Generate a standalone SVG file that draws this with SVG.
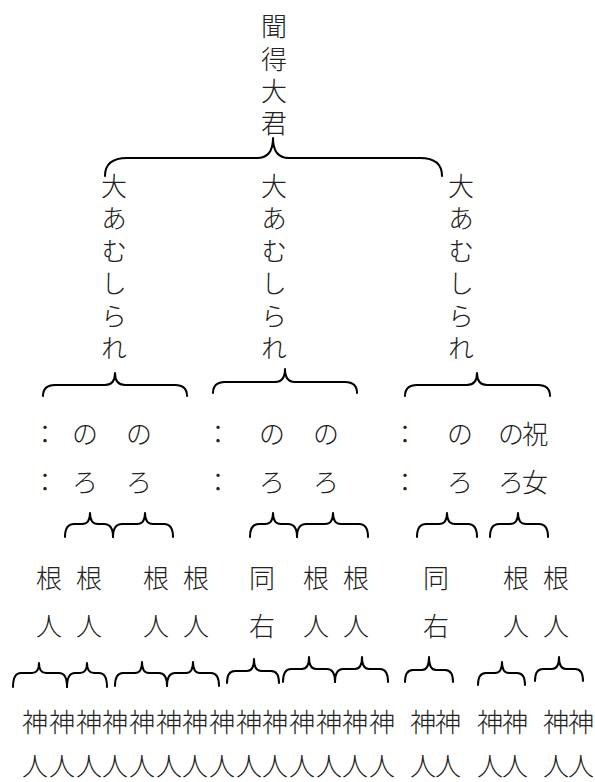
<svg xmlns="http://www.w3.org/2000/svg" width="595" height="782" viewBox="0 0 595 782">
<style>
.t{font-family:"Noto Sans CJK JP","Noto Sans CJK SC",sans-serif;font-size:26px;font-weight:300;fill:#222;text-anchor:middle}
.v{font-family:"Noto Sans CJK JP","Noto Sans CJK SC",sans-serif;font-size:26px;font-weight:300;fill:#222;writing-mode:vertical-rl;text-anchor:start}
.b{fill:none;stroke:#000;stroke-width:2;stroke-linecap:round;stroke-linejoin:round}
</style>
<rect width="595" height="782" fill="#fff"/>
<g id="connectors" class="b">
<path d="M105 176 Q105 158 127 158 L257 158 Q273 158 273 138 Q273 158 289 158 L420 158 Q442 158 442 176"/>
<path d="M43 396 Q43 385 55 385 L105 385 Q115 385 115 373 Q115 385 125 385 L175 385 Q187 385 187 396"/>
<path d="M213 393 Q213 382 225 382 L275 382 Q285 382 285 369 Q285 382 295 382 L345 382 Q357 382 357 393"/>
<path d="M405 396 Q405 385 417 385 L467 385 Q477 385 477 373 Q477 385 487 385 L538 385 Q550 385 550 396"/>
<path d="M65 537 Q65 524 74 524 L82 524 Q90 524 90 513 Q90 524 98 524 L104 524 Q113 524 113 537"/>
<path d="M113 537 Q113 524 122 524 L137 524 Q145 524 145 513 Q145 524 153 524 L164 524 Q173 524 173 537"/>
<path d="M250 537 Q250 524 259 524 L265 524 Q273 524 273 513 Q273 524 281 524 L288 524 Q297 524 297 537"/>
<path d="M297 537 Q297 524 306 524 L325 524 Q333 524 333 513 Q333 524 341 524 L359 524 Q368 524 368 537"/>
<path d="M417 537 Q417 524 426 524 L439 524 Q447 524 447 513 Q447 524 455 524 L468 524 Q477 524 477 537"/>
<path d="M490 537 Q490 524 499 524 L510 524 Q518 524 518 513 Q518 524 526 524 L539 524 Q548 524 548 537"/>
<path d="M13 687 Q13 673 21 673 L32 673 Q39 673 39 663 Q39 673 46 673 L59 673 Q67 673 67 687"/>
<path d="M67 687 Q67 673 75 673 L80 673 Q87 673 87 663 Q87 673 94 673 L99 673 Q107 673 107 687"/>
<path d="M115 686 Q115 673 123 673 L135 673 Q142 673 142 662 Q142 673 149 673 L159 673 Q167 673 167 686"/>
<path d="M167 686 Q167 673 175 673 L186 673 Q193 673 193 662 Q193 673 200 673 L211 673 Q219 673 219 686"/>
<path d="M227 683 Q227 671 235 671 L247 671 Q254 671 254 659 Q254 671 261 671 L271 671 Q279 671 279 683"/>
<path d="M283 682 Q283 669 291 669 L302 669 Q309 669 309 657 Q309 669 316 669 L327 669 Q335 669 335 682"/>
<path d="M335 682 Q335 669 343 669 L355 669 Q362 669 362 657 Q362 669 369 669 L380 669 Q388 669 388 682"/>
<path d="M405 682 Q405 670 413 670 L422 670 Q429 670 429 657 Q429 670 436 670 L445 670 Q453 670 453 682"/>
<path d="M478 685 Q478 673 486 673 L495 673 Q502 673 502 662 Q502 673 509 673 L517 673 Q525 673 525 685"/>
<path d="M535 681 Q535 669 543 669 L552 669 Q559 669 559 657 Q559 669 566 669 L575 669 Q583 669 583 681"/>
</g>
<g id="root"><text class="v" x="274" y="13.5" letter-spacing="6.3">聞得大君</text></g>
<g id="col-1"><text class="v" x="114" y="173" letter-spacing="6.5">大あむしられ</text></g>
<g id="col-2"><text class="v" x="274" y="173" letter-spacing="6.5">大あむしられ</text></g>
<g id="col-3"><text class="v" x="461" y="173" letter-spacing="6.5">大あむしられ</text></g>
<g id="colon-1"><text class="t"><tspan x="45" y="444">：</tspan><tspan x="45" y="492">：</tspan></text></g>
<g id="noro-1"><text class="t"><tspan x="85" y="444">の</tspan><tspan x="85" y="492">ろ</tspan></text></g>
<g id="noro-2"><text class="t"><tspan x="139" y="444">の</tspan><tspan x="139" y="492">ろ</tspan></text></g>
<g id="colon-2"><text class="t"><tspan x="218" y="444">：</tspan><tspan x="218" y="492">：</tspan></text></g>
<g id="noro-3"><text class="t"><tspan x="272" y="444">の</tspan><tspan x="272" y="492">ろ</tspan></text></g>
<g id="noro-4"><text class="t"><tspan x="326" y="444">の</tspan><tspan x="326" y="492">ろ</tspan></text></g>
<g id="colon-3"><text class="t"><tspan x="405" y="444">：</tspan><tspan x="405" y="492">：</tspan></text></g>
<g id="noro-5"><text class="t"><tspan x="460" y="444">の</tspan><tspan x="460" y="492">ろ</tspan></text></g>
<g id="noro-6"><text class="t"><tspan x="511" y="444">の</tspan><tspan x="511" y="492">ろ</tspan></text></g>
<g id="nuru"><text class="t"><tspan x="535" y="444">祝</tspan><tspan x="535" y="492">女</tspan></text></g>
<g id="nebito-1"><text class="t"><tspan x="49" y="588">根</tspan><tspan x="49" y="636">人</tspan></text></g>
<g id="nebito-2"><text class="t"><tspan x="89" y="588">根</tspan><tspan x="89" y="636">人</tspan></text></g>
<g id="nebito-3"><text class="t"><tspan x="156" y="588">根</tspan><tspan x="156" y="636">人</tspan></text></g>
<g id="nebito-4"><text class="t"><tspan x="196" y="588">根</tspan><tspan x="196" y="636">人</tspan></text></g>
<g id="doyu-1"><text class="t"><tspan x="262" y="588">同</tspan><tspan x="262" y="636">右</tspan></text></g>
<g id="nebito-5"><text class="t"><tspan x="316" y="588">根</tspan><tspan x="316" y="636">人</tspan></text></g>
<g id="nebito-6"><text class="t"><tspan x="356" y="588">根</tspan><tspan x="356" y="636">人</tspan></text></g>
<g id="doyu-2"><text class="t"><tspan x="436" y="588">同</tspan><tspan x="436" y="636">右</tspan></text></g>
<g id="nebito-7"><text class="t"><tspan x="516" y="588">根</tspan><tspan x="516" y="636">人</tspan></text></g>
<g id="nebito-8"><text class="t"><tspan x="556" y="588">根</tspan><tspan x="556" y="636">人</tspan></text></g>
<g id="kaminchu-1"><text class="t"><tspan x="35" y="732">神</tspan><tspan x="35" y="776">人</tspan></text></g>
<g id="kaminchu-2"><text class="t"><tspan x="62" y="732">神</tspan><tspan x="62" y="776">人</tspan></text></g>
<g id="kaminchu-3"><text class="t"><tspan x="89" y="732">神</tspan><tspan x="89" y="776">人</tspan></text></g>
<g id="kaminchu-4"><text class="t"><tspan x="115" y="732">神</tspan><tspan x="115" y="776">人</tspan></text></g>
<g id="kaminchu-5"><text class="t"><tspan x="142" y="732">神</tspan><tspan x="142" y="776">人</tspan></text></g>
<g id="kaminchu-6"><text class="t"><tspan x="169" y="732">神</tspan><tspan x="169" y="776">人</tspan></text></g>
<g id="kaminchu-7"><text class="t"><tspan x="195" y="732">神</tspan><tspan x="195" y="776">人</tspan></text></g>
<g id="kaminchu-8"><text class="t"><tspan x="222" y="732">神</tspan><tspan x="222" y="776">人</tspan></text></g>
<g id="kaminchu-9"><text class="t"><tspan x="249" y="732">神</tspan><tspan x="249" y="776">人</tspan></text></g>
<g id="kaminchu-10"><text class="t"><tspan x="275" y="732">神</tspan><tspan x="275" y="776">人</tspan></text></g>
<g id="kaminchu-11"><text class="t"><tspan x="302" y="732">神</tspan><tspan x="302" y="776">人</tspan></text></g>
<g id="kaminchu-12"><text class="t"><tspan x="329" y="732">神</tspan><tspan x="329" y="776">人</tspan></text></g>
<g id="kaminchu-13"><text class="t"><tspan x="355" y="732">神</tspan><tspan x="355" y="776">人</tspan></text></g>
<g id="kaminchu-14"><text class="t"><tspan x="382" y="732">神</tspan><tspan x="382" y="776">人</tspan></text></g>
<g id="kaminchu-15"><text class="t"><tspan x="423" y="732">神</tspan><tspan x="423" y="776">人</tspan></text></g>
<g id="kaminchu-16"><text class="t"><tspan x="448" y="732">神</tspan><tspan x="448" y="776">人</tspan></text></g>
<g id="kaminchu-17"><text class="t"><tspan x="490" y="732">神</tspan><tspan x="490" y="776">人</tspan></text></g>
<g id="kaminchu-18"><text class="t"><tspan x="515" y="732">神</tspan><tspan x="515" y="776">人</tspan></text></g>
<g id="kaminchu-19"><text class="t"><tspan x="556" y="732">神</tspan><tspan x="556" y="776">人</tspan></text></g>
<g id="kaminchu-20"><text class="t"><tspan x="581" y="732">神</tspan><tspan x="581" y="776">人</tspan></text></g>
</svg>
